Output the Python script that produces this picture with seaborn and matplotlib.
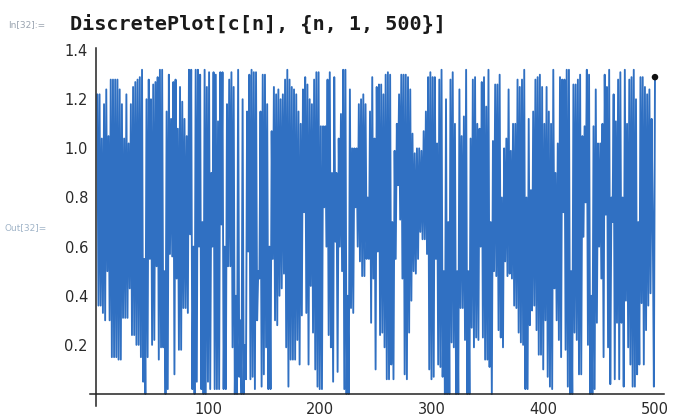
import matplotlib
matplotlib.use('Agg')
import matplotlib.pyplot as plt
import numpy as np
import pandas as pd
import seaborn as sns
from matplotlib.ticker import FixedLocator, MultipleLocator, FormatStrFormatter

# c[n], in blocks of 100 n.
# "odd" holds c[1], c[3], ... and "even" holds c[2], c[4], ... of each block.
odd_001_100 = [1.22, 1.22, 1.04, 1.18, 1.24, 1.05, 1.28, 1.28, 1.28, 1.28,
               1.24, 1.18, 1.04, 1.22, 1.02, 1.18, 1.25, 1.27, 1.28, 1.29,
               1.32, 0.55, 1.20, 1.28, 1.20, 1.26, 1.27, 1.29, 1.32, 1.32,
               0.50, 1.15, 1.30, 1.12, 1.27, 1.28, 1.08, 1.25, 1.19, 1.12,
               1.05, 1.32, 1.32, 0.60, 1.32, 1.32, 1.30, 0.70, 1.32, 1.25]
even_001_100 = [0.36, 0.36, 0.33, 0.30, 0.50, 0.30, 0.15, 0.15, 0.15, 0.14,
                0.14, 0.31, 0.31, 0.31, 0.43, 0.24, 0.24, 0.20, 0.20, 0.15,
                0.05, 0.00, 0.15, 0.55, 0.20, 0.22, 0.52, 0.14, 0.19, 0.19,
                0.00, 0.02, 0.57, 0.56, 0.08, 0.47, 0.18, 0.18, 0.35, 0.35,
                0.33, 0.65, 0.02, 0.00, 0.05, 0.60, 0.02, 0.00, 0.00, 0.05]

odd_101_200 = [1.31, 0.90, 1.31, 1.30, 1.11, 1.31, 1.31, 0.60, 1.18, 1.28,
               1.31, 1.25, 0.40, 1.32, 0.30, 1.20, 0.20, 1.15, 1.30, 1.32,
               1.31, 1.31, 0.50, 1.15, 1.30, 1.30, 1.18, 0.60, 1.07, 1.25,
               1.22, 1.24, 1.20, 1.22, 1.28, 1.32, 1.28, 1.25, 1.24, 1.22,
               1.15, 1.10, 1.24, 1.29, 1.26, 1.20, 1.18, 1.28, 1.31, 1.31]
even_101_200 = [0.02, 0.60, 0.02, 0.02, 0.02, 0.69, 0.02, 0.02, 0.52, 0.52,
                0.19, 0.00, 0.00, 0.07, 0.00, 0.00, 0.06, 0.58, 0.06, 0.07,
                0.02, 0.30, 0.47, 0.03, 0.08, 0.19, 0.02, 0.02, 0.55, 0.30,
                0.28, 0.40, 0.43, 0.49, 0.19, 0.03, 0.14, 0.14, 0.14, 0.22,
                0.12, 0.32, 0.74, 0.33, 0.12, 0.44, 0.25, 0.10, 0.03, 0.02]

odd_201_300 = [1.09, 1.09, 1.09, 1.28, 1.31, 0.90, 1.29, 0.90, 1.04, 1.14,
               1.32, 1.32, 0.40, 1.24, 1.00, 1.00, 1.00, 1.18, 1.20, 1.22,
               1.18, 0.80, 1.15, 1.29, 1.04, 1.25, 1.26, 1.26, 1.22, 1.30,
               1.31, 1.30, 0.70, 0.99, 1.10, 1.22, 1.30, 1.30, 1.30, 1.29,
               1.24, 1.06, 0.98, 1.00, 1.00, 0.99, 1.07, 1.15, 1.29, 1.31]
even_201_300 = [0.02, 0.76, 0.60, 0.24, 0.19, 0.05, 0.62, 0.09, 0.60, 0.50,
                0.02, 0.00, 0.00, 0.35, 0.33, 0.76, 0.60, 0.54, 0.48, 0.48,
                0.55, 0.55, 0.29, 0.47, 0.10, 0.58, 0.24, 0.25, 0.19, 0.06,
                0.06, 0.12, 0.06, 0.55, 0.85, 0.71, 0.47, 0.08, 0.06, 0.25,
                0.38, 0.50, 0.49, 0.55, 0.66, 0.63, 0.63, 0.57, 0.10, 0.06]

odd_301_400 = [1.29, 1.29, 1.02, 1.28, 1.32, 0.50, 1.20, 0.70, 1.28, 1.31,
               1.10, 0.50, 1.24, 1.05, 1.13, 1.32, 0.50, 1.04, 1.28, 1.29,
               1.10, 1.08, 1.27, 1.29, 1.17, 1.32, 0.70, 1.03, 1.26, 1.26,
               1.30, 0.80, 1.00, 1.04, 1.24, 0.99, 1.10, 1.10, 1.28, 1.25,
               1.28, 1.32, 0.80, 1.12, 0.83, 1.15, 1.28, 1.29, 1.30, 1.25]
even_301_400 = [0.07, 0.55, 0.12, 0.11, 0.07, 0.00, 0.00, 0.00, 0.21, 0.19,
                0.00, 0.00, 0.35, 0.35, 0.22, 0.00, 0.00, 0.27, 0.19, 0.23,
                0.22, 0.60, 0.23, 0.14, 0.14, 0.11, 0.00, 0.50, 0.48, 0.26,
                0.23, 0.19, 0.54, 0.48, 0.49, 0.47, 0.36, 0.35, 0.25, 0.21,
                0.20, 0.02, 0.02, 0.28, 0.34, 0.36, 0.26, 0.16, 0.16, 0.10]

odd_401_500 = [1.10, 1.25, 1.15, 1.10, 1.32, 0.90, 1.02, 1.29, 1.28, 1.28,
               1.32, 1.32, 0.50, 1.26, 1.26, 1.28, 1.30, 1.05, 1.09, 1.32,
               1.30, 0.40, 1.09, 1.24, 1.02, 1.02, 1.10, 1.30, 1.25, 1.32,
               0.80, 1.22, 1.11, 1.28, 1.31, 0.80, 1.32, 1.10, 1.28, 1.29,
               1.32, 1.20, 0.70, 1.29, 1.29, 1.25, 1.22, 1.24, 1.12, 0.03]
even_401_500 = [0.30, 0.07, 0.03, 0.02, 0.43, 0.30, 0.22, 0.15, 0.74, 0.18,
                0.03, 0.00, 0.00, 0.25, 0.22, 0.08, 0.08, 0.64, 0.78, 0.20,
                0.00, 0.00, 0.02, 0.29, 0.60, 0.47, 0.15, 0.73, 0.19, 0.04,
                0.70, 0.06, 0.29, 0.06, 0.29, 0.03, 0.38, 0.19, 0.12, 0.03,
                0.03, 0.08, 0.12, 0.37, 0.12, 0.26, 0.36, 0.41, 0.69, 1.29]

x_ticks = [100, 200, 300, 400, 500]
y_ticks = [0.2, 0.4, 0.6, 0.8, 1.0, 1.2, 1.4]

blocks = [(odd_001_100, even_001_100), (odd_101_200, even_101_200),
          (odd_201_300, even_201_300), (odd_301_400, even_301_400),
          (odd_401_500, even_401_500)]
c = []
for odd, even in blocks:
    for a, b in zip(odd, even):
        c.extend([a, b])
df = pd.DataFrame({'n': np.arange(1, len(c) + 1), 'c': c})

sns.set_style('white')
plt.rcParams['font.family'] = ['DejaVu Sans']

fig = plt.figure(figsize=(6.75, 4.17), dpi=100)
ax = fig.add_axes([0.1326, 0.0257, 0.851, 0.860])

blue = '#3070c2'
sns.lineplot(data=df, x='n', y='c', ax=ax, color=blue, linewidth=1.35,
             estimator=None, sort=False)
sns.scatterplot(x=df['n'].iloc[-1:], y=df['c'].iloc[-1:], ax=ax,
                color='#111111', s=22, edgecolor='none', zorder=5)

ax.set_xlim(-6, 508)
ax.set_ylim(-0.05, 1.41)
ax.set_xlabel('')
ax.set_ylabel('')

for side in ['top', 'right']:
    ax.spines[side].set_visible(False)
ax.spines['left'].set_position(('data', 0))
ax.spines['bottom'].set_position(('data', 0))
for side in ['left', 'bottom']:
    ax.spines[side].set_color('#222222')
    ax.spines[side].set_linewidth(1.1)

ax.xaxis.set_major_locator(FixedLocator(x_ticks))
ax.xaxis.set_minor_locator(MultipleLocator(20))
ax.yaxis.set_major_locator(FixedLocator(y_ticks))
ax.yaxis.set_minor_locator(MultipleLocator(0.05))
ax.yaxis.set_major_formatter(FormatStrFormatter('%.1f'))
ax.tick_params(which='major', direction='in', length=5.5, width=1.1,
               color='#222222', labelsize=10.5, labelcolor='#2a2a2a')
ax.tick_params(which='minor', direction='in', length=3, width=0.9,
               color='#222222')
ax.tick_params(axis='x', which='major', pad=6)
ax.tick_params(axis='y', which='major', pad=6)

fig.text(0.104, 0.942, 'DiscretePlot[c[n], {n, 1, 500}]',
         family='DejaVu Sans Mono', fontsize=14.5, fontweight='bold',
         color='#1a1a1a', va='center', ha='left')
fig.text(0.012, 0.940, 'In[32]:=', fontsize=6.5, color='#9aa4b0',
         va='center', ha='left')
fig.text(0.007, 0.453, 'Out[32]=', fontsize=6.5, color='#a0b4c8',
         va='center', ha='left')

fig.savefig('out.png', dpi=100)
